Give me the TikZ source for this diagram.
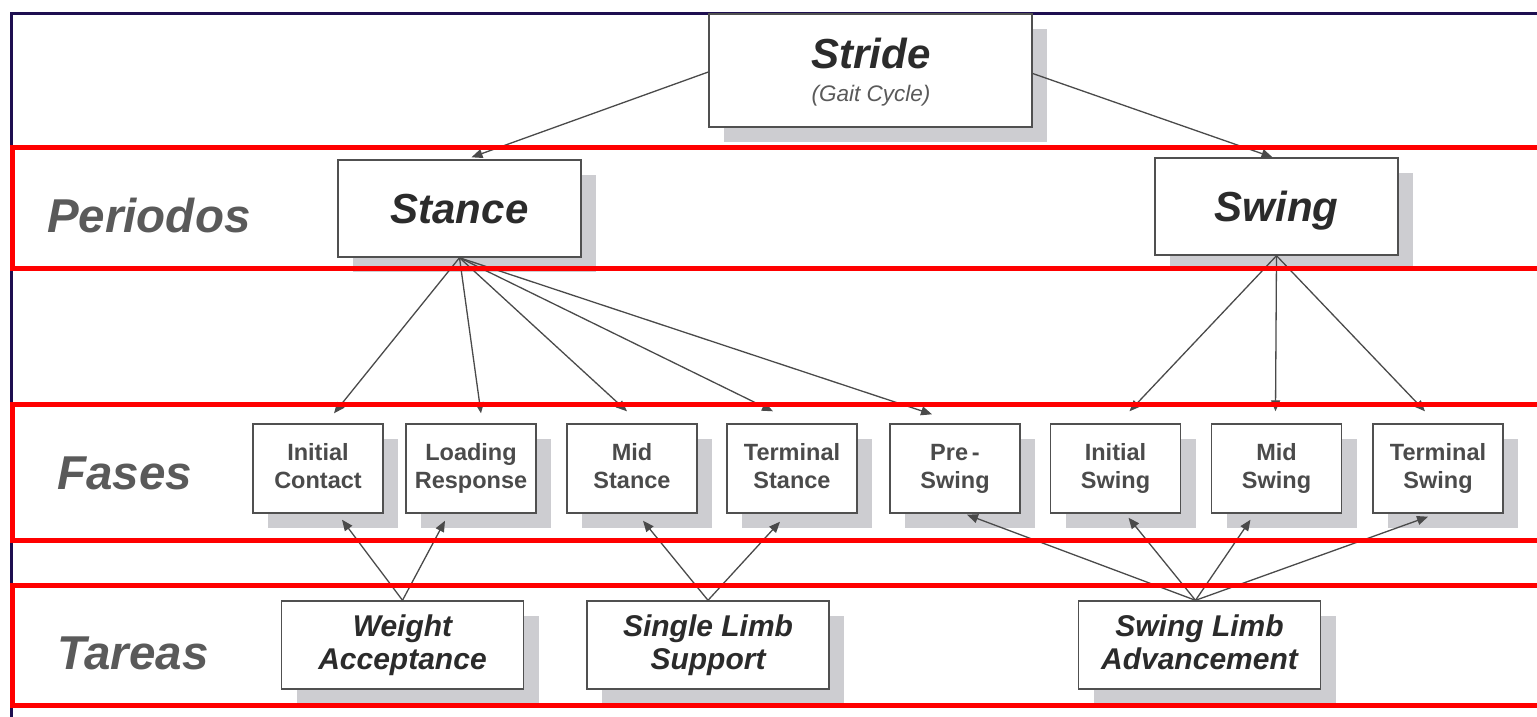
\documentclass[tikz,border=0pt]{standalone}
\usepackage{fontspec}
\setmainfont{Liberation Sans}
\usetikzlibrary{arrows.meta,shadows}
\definecolor{framenavy}{HTML}{1E0F50}
\definecolor{lbl}{HTML}{5A5A5A}
\definecolor{boxline}{HTML}{505050}
\definecolor{shade}{HTML}{CDCDD1}
\definecolor{txt}{HTML}{2B2B2B}
\definecolor{arrc}{HTML}{4A4A4A}
\definecolor{bandred}{HTML}{FF0000}
\newcommand{\flab}[2]{\rule{0pt}{17pt}#1\\#2\rule[-5.5pt]{0pt}{5.5pt}}
\newcommand{\tlab}[2]{\rule{0pt}{21.5pt}#1\\#2\rule[-6pt]{0pt}{6pt}}
\begin{document}
\begin{tikzpicture}[x=1pt,y=-1pt,
  box/.style={draw=boxline,line width=1.4pt,fill=white,inner sep=0pt,align=center,text=txt,
    drop shadow={shadow xshift=15pt,shadow yshift=-15pt,fill=shade,opacity=1}},
  topbox/.style={box,minimum width=323pt,minimum height=113pt},
  perbox/.style={box,minimum width=243pt,minimum height=97pt,
    font=\fontsize{42}{42}\selectfont\bfseries\itshape,text height=30pt,text depth=0pt},
  fasebox/.style={box,minimum width=130pt,minimum height=89pt,
    font=\fontsize{23.5}{28}\selectfont\bfseries,text=txt!85!white},
  tarbox/.style={box,minimum width=242pt,minimum height=88pt,
    font=\fontsize{30}{33}\selectfont\bfseries\itshape},
  rowlabel/.style={anchor=base west,inner sep=0pt,text=lbl,font=\fontsize{47.5}{47.5}\selectfont\bfseries\itshape},
  arw/.style={draw=arrc,line width=1.3pt,-{Triangle[length=11pt,width=9pt]}},
  band/.style={draw=bandred,line width=5pt},
]
\useasboundingbox (0,0) rectangle (1537,716);
\clip (0,0) rectangle (1537,716);
\fill[white] (0,0) rectangle (1537,716);

% frame
\draw[framenavy,line width=3pt] (1545,13) -- (11,13) -- (11,725);

% level 0
\node[topbox] (stride) at (870.5,70.5) {};
\node[anchor=base,inner sep=0pt,text=txt,font=\fontsize{42}{42}\selectfont\bfseries\itshape] (stridet) at (871,68) {Stride};
\node[anchor=base,inner sep=0pt,text=lbl,font=\fontsize{22.5}{22.5}\selectfont\itshape] (gait) at (871,101) {(Gait Cycle)};

% periods
\node[perbox] (stance) at (459.5,208.5) {Stance};
\node[perbox] (swing) at (1276.5,206.5) {Swing};

% phases
\node[fasebox] (ic) at (318,468.5) {\flab{Initial}{Contact}};
\node[fasebox] (lr) at (471,468.5) {\flab{Loading}{Response}};
\node[fasebox] (ms) at (632,468.5) {\flab{Mid}{Stance}};
\node[fasebox] (ts) at (792,468.5) {\flab{Terminal}{Stance}};
\node[fasebox] (ps) at (955,468.5) {\flab{Pre\,-}{Swing}};
\node[fasebox] (is) at (1115.5,468.5) {\flab{Initial}{Swing}};
\node[fasebox] (msw) at (1276.5,468.5) {\flab{Mid}{Swing}};
\node[fasebox] (tsw) at (1438,468.5) {\flab{Terminal}{Swing}};

% tasks
\node[tarbox] (wa) at (402.5,645) {\tlab{Weight}{Acceptance}};
\node[tarbox] (sls) at (708,645) {\tlab{Single Limb}{Support}};
\node[tarbox] (sla) at (1199.5,645) {\tlab{Swing Limb}{Advancement}};

% row labels
\node[rowlabel] (lper) at (47,232) {Periodos};
\node[rowlabel] (lfas) at (57,489) {Fases};
\node[rowlabel] (ltar) at (57,669) {Tareas};

% connectors
\draw[arw] ([yshift=-1.5pt]stride.west) -- ([xshift=12pt,yshift=2pt]stance.north);
\draw[arw] ([yshift=-3pt]stride.east) -- ([xshift=-4pt,yshift=0pt]swing.north);

\draw[arw] (stance.south) -- ([xshift=16pt,yshift=10pt]ic.north);
\draw[arw] (stance.south) -- ([xshift=10pt,yshift=10pt]lr.north);
\draw[arw] (stance.south) -- ([xshift=-5pt,yshift=12pt]ms.north);
\draw[arw] (stance.south) -- ([xshift=-19pt,yshift=12pt]ts.north);
\draw[arw] (stance.south) -- ([xshift=-23pt,yshift=9pt]ps.north);

\draw[arw] (swing.south) -- ([xshift=14pt,yshift=12pt]is.north);
\draw[arw] (swing.south) -- ([xshift=-1pt,yshift=12pt]msw.north);
\draw[arw] (swing.south) -- ([xshift=-13pt,yshift=12pt]tsw.north);

\draw[arw] (wa.north) -- ([xshift=24pt,yshift=-6pt]ic.south);
\draw[arw] (wa.north) -- ([xshift=-26pt,yshift=-7pt]lr.south);
\draw[arw] (sls.north) -- ([xshift=11pt,yshift=-7pt]ms.south);
\draw[arw] (sls.north) -- ([xshift=-12pt,yshift=-8pt]ts.south);
\draw[arw] ([xshift=-4pt]sla.north) -- ([xshift=12pt,yshift=-1pt]ps.south);
\draw[arw] ([xshift=-4pt]sla.north) -- ([xshift=13pt,yshift=-4pt]is.south);
\draw[arw] ([xshift=-4pt]sla.north) -- ([xshift=-26pt,yshift=-6pt]msw.south);
\draw[arw] ([xshift=-4pt]sla.north) -- ([xshift=-10pt,yshift=-3pt]tsw.south);

% red bands
\draw[band] (12,147.5) rectangle (1560,268);
\draw[band] (12,404.5) rectangle (1560,540);
\draw[band] (12,585.5) rectangle (1560,705);
\end{tikzpicture}
\end{document}
